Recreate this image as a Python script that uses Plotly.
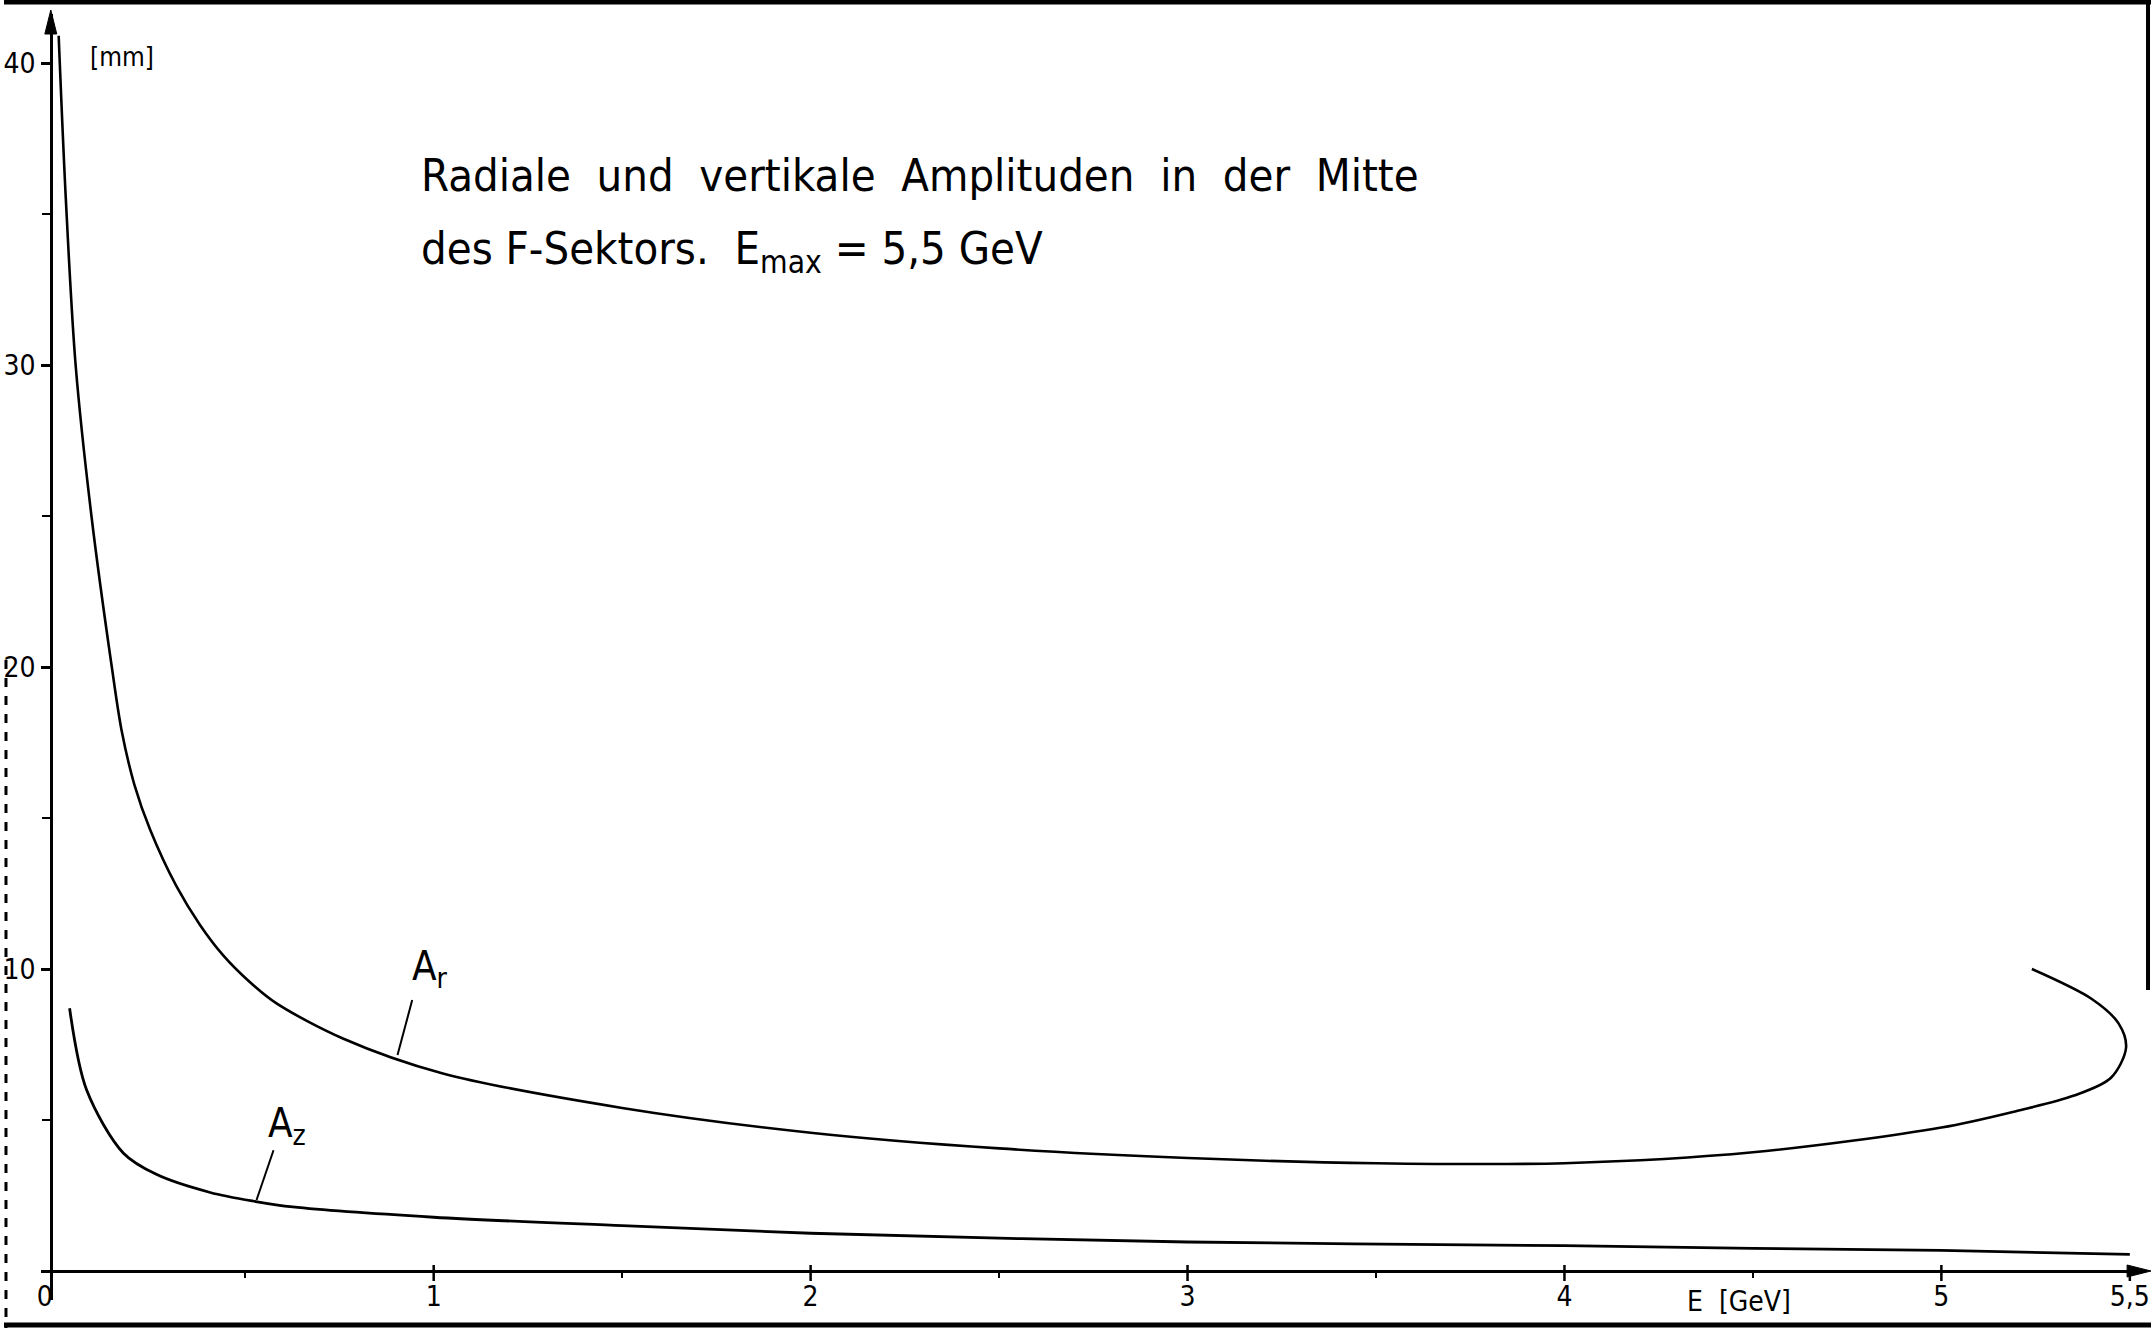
import plotly.graph_objects as go

# ---------------- data ----------------
E_r = [0.005, 0.024, 0.050, 0.092, 0.146, 0.172, 0.206, 0.248, 0.317, 0.380, 0.441, 0.512, 0.582,
       0.759, 1.022, 1.5, 2.0, 2.5, 3.0, 3.5, 4.0, 4.5, 5.0, 5.2, 5.35, 5.45, 5.49, 5.47, 5.40, 5.24]
A_r = [40.9, 35.5, 30.0, 25.0, 20.0, 17.9, 16.1, 14.6, 12.75, 11.46, 10.46, 9.57, 8.87,
       7.7, 6.55, 5.4, 4.58, 4.06, 3.74, 3.57, 3.57, 3.93, 4.75, 5.3, 5.8, 6.4, 7.4, 8.2, 9.0, 10.0]

E_z = [0.034, 0.079, 0.177, 0.264, 0.407, 0.528, 0.626, 1.0, 1.5, 2.0, 3.0, 4.0, 4.5, 5.0, 5.5]
A_z = [8.7, 6.0, 3.9, 3.2, 2.6, 2.3, 2.12, 1.78, 1.5, 1.25, 0.96, 0.84, 0.75, 0.68, 0.55]

x_tickvals = [0, 1, 2, 3, 4, 5, 5.5]
x_ticktext = ["0\u00a0\u00a0\u00a0", "1", "2", "3", "4", "5", "5,5"]
x_minor = [0.5, 1.5, 2.5, 3.5, 4.5]
y_tickvals = [10, 20, 30, 40]
y_ticktext = ["10", "20", "30", "40"]
y_minor = [5, 15, 25, 35]

title_line1 = "Radiale  und  vertikale  Amplituden  in  der  Mitte"
title_line2 = "des F-Sektors.  E<sub>max</sub> = 5,5 GeV"
y_unit = "[mm]"
x_unit = "E  [GeV]"

# curve labels: (text, label x, label y, leader start, leader end)
labels = [
    ("A<sub>r</sub>", 0.99, 10.0, (0.943, 8.97), (0.904, 7.15)),
    ("A<sub>z</sub>", 0.61, 4.8, (0.575, 4.0), (0.53, 2.35)),
]

# ---------------- layout geometry (pixels) ----------------
W, H = 2156, 1328
X0PX, XSCALE = 53, 378.5      # pixel of E=0, pixels per GeV
Y0PX, YSCALE = 1271, 30.2     # pixel of A=0, pixels per mm
YAXPX = 47                    # pixel column of the drawn y-axis line
XL, XR = 37, 2150             # x-axis extent
YB, YT = 1300, 14             # y-axis extent


def ex(px):
    return (px - X0PX) / XSCALE


def ay(py):
    return (Y0PX - py) / YSCALE


def pp(px, py):
    return f"{px / W},{1 - py / H}"


FONT = "Liberation Sans Narrow, DejaVu Sans Condensed, Arial Narrow, sans-serif"

fig = go.Figure()
fig.add_trace(go.Scatter(x=E_r, y=A_r, mode="lines", line=dict(color="black", width=2.6, shape="spline", smoothing=0.9),
                         name="A_r", showlegend=False))
fig.add_trace(go.Scatter(x=E_z, y=A_z, mode="lines", line=dict(color="black", width=2.8, shape="spline", smoothing=0.9),
                         name="A_z", showlegend=False))

shapes = []
annotations = []

for txt, lx, ly, (sx, sy), (tx, ty) in labels:
    annotations.append(dict(x=lx, y=ly, xref="x", yref="y", text=txt, showarrow=False,
                            font=dict(family=FONT, size=40, color="black")))
    shapes.append(dict(type="line", xref="x", yref="y", x0=sx, y0=sy, x1=tx, y1=ty,
                       line=dict(color="black", width=2)))

annotations.append(dict(xref="paper", yref="paper", x=417 / W, y=1 - 176 / H, xanchor="left", yanchor="middle",
                        text=title_line1, showarrow=False, font=dict(family=FONT, size=45, color="black")))
annotations.append(dict(xref="paper", yref="paper", x=417 / W, y=1 - 251 / H, xanchor="left", yanchor="middle",
                        text=title_line2, showarrow=False, font=dict(family=FONT, size=45, color="black")))
annotations.append(dict(xref="paper", yref="paper", x=118 / W, y=1 - 57 / H, xanchor="center", yanchor="middle",
                        text=y_unit, showarrow=False, font=dict(family=FONT, size=26, color="black")))
annotations.append(dict(xref="paper", yref="paper", x=1742 / W, y=1 - 1301 / H, xanchor="center", yanchor="middle",
                        text=x_unit, showarrow=False, font=dict(family=FONT, size=28, color="black")))

# major x ticks crossing the axis line
for v in x_tickvals[1:]:
    up = 0 if v == x_tickvals[-1] else 6
    shapes.append(dict(type="line", xref="x", yref="y", x0=v, x1=v, y0=ay(Y0PX + 10), y1=ay(Y0PX - up),
                       line=dict(color="black", width=2.5)))

# axis arrowheads
shapes.append(dict(type="path", xref="paper", yref="paper",
                   path=f"M {pp(YAXPX, 10)} L {pp(YAXPX - 6, 34)} L {pp(YAXPX + 6, 34)} Z",
                   fillcolor="black", line=dict(color="black", width=1)))
shapes.append(dict(type="path", xref="paper", yref="paper",
                   path=f"M {pp(2156, Y0PX)} L {pp(2132, Y0PX - 6)} L {pp(2132, Y0PX + 6)} Z",
                   fillcolor="black", line=dict(color="black", width=1)))

# scan border lines of the original sheet
shapes += [
    dict(type="line", xref="paper", yref="paper", x0=0, x1=1, y0=1 - 2 / H, y1=1 - 2 / H, line=dict(color="black", width=5)),
    dict(type="line", xref="paper", yref="paper", x0=0, x1=1, y0=1 - 1325 / H, y1=1 - 1325 / H, line=dict(color="black", width=5)),
    dict(type="line", xref="paper", yref="paper", x0=1 - 3 / W, x1=1 - 3 / W, y0=1, y1=1 - 990 / H, line=dict(color="black", width=4)),
    dict(type="line", xref="paper", yref="paper", x0=2 / W, x1=2 / W, y0=1 - 660 / H, y1=0, line=dict(color="black", width=3, dash="dash")),
]

tickfont = dict(family=FONT, size=28, color="black")

fig.update_layout(
    width=W, height=H,
    margin=dict(l=0, r=0, t=0, b=0),
    paper_bgcolor="white", plot_bgcolor="white",
    showlegend=False,
    shapes=shapes, annotations=annotations,
    xaxis=dict(domain=[XL / W, XR / W], range=[ex(XL), ex(XR)], anchor="free", position=1 - Y0PX / H,
               showline=True, linecolor="black", linewidth=2.5, showgrid=False, zeroline=False,
               tickmode="array", tickvals=x_tickvals, ticktext=x_ticktext, ticks="",
               tickfont=tickfont,
               minor=dict(tickmode="array", tickvals=x_minor, ticks="outside", ticklen=5, tickwidth=1.5, tickcolor="black")),
    yaxis=dict(domain=[1 - YB / H, 1 - YT / H], range=[ay(YB), ay(YT)], anchor="free", position=YAXPX / W,
               showline=True, linecolor="black", linewidth=2.5, showgrid=False, zeroline=False,
               tickmode="array", tickvals=y_tickvals, ticktext=y_ticktext, ticks="outside", ticklen=9,
               tickwidth=2.5, tickcolor="black", tickfont=tickfont,
               minor=dict(tickmode="array", tickvals=y_minor, ticks="outside", ticklen=8, tickwidth=1.5, tickcolor="black")),
)

fig.write_html("out.html", config={"displayModeBar": False},
               post_script="document.body.style.margin='0';document.body.style.overflow='hidden';")
